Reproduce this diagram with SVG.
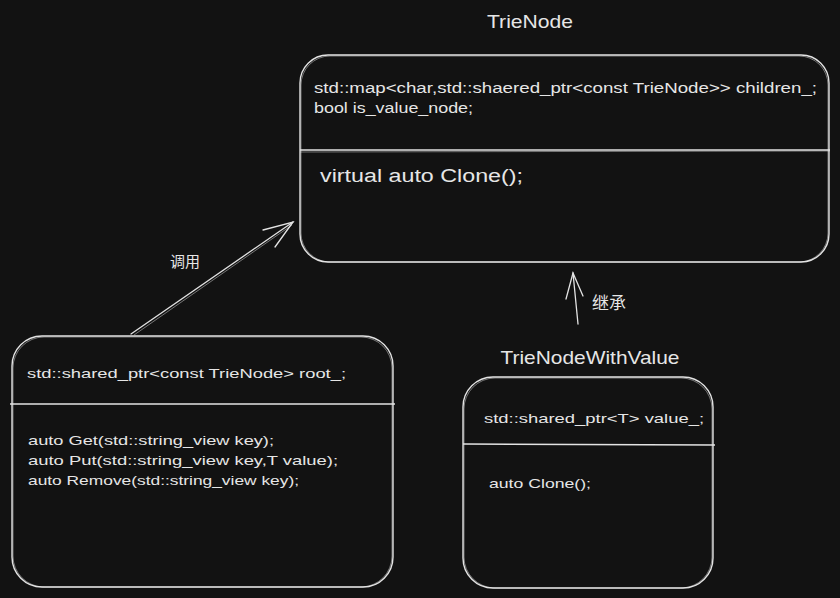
<svg xmlns="http://www.w3.org/2000/svg" width="840" height="598" viewBox="0 0 840 598">
<defs>
<style>
.bg{fill:#121212}
.box{fill:none;stroke:#e3e3e3;stroke-width:1.4}
.sk{fill:none;stroke:#e3e3e3;stroke-width:0.8;opacity:0.6}
.t{font-family:"Liberation Sans",Arial,sans-serif;fill:#e6e6e6}
.cjk{font-family:"Noto Sans CJK SC","Liberation Sans",sans-serif;fill:#e6e6e6}
.ln{fill:none;stroke:#e3e3e3;stroke-width:1.3;stroke-linecap:round}
</style>
</defs>
<rect class="bg" x="0" y="0" width="840" height="598"/>

<g id="connectors">
  <g id="call-arrow">
    <line class="ln" x1="131" y1="334" x2="293" y2="222"/>
    <line class="sk" x1="134" y1="335" x2="292" y2="225"/>
    <polyline class="ln" points="263,230 293,222 275,247"/>
    <text class="cjk" x="185" y="267" font-size="15" text-anchor="middle">调用</text>
  </g>
  <g id="inherit-arrow">
    <line class="ln" x1="578" y1="324" x2="573" y2="273"/>
    <polyline class="ln" points="566,299 573,273 583,296"/>
    <text class="cjk" x="592" y="309" font-size="17">继承</text>
  </g>
</g>

<g id="TrieNode">
  <text class="t" x="530" y="28" font-size="19" text-anchor="middle" textLength="86" lengthAdjust="spacingAndGlyphs">TrieNode</text>
  <rect class="box" x="300" y="55" width="529" height="207" rx="28" ry="28"/>
  <rect class="sk" x="301" y="56" width="527" height="206" rx="29" ry="29"/>
  <line class="box" x1="300" y1="150" x2="830" y2="150"/>
  <line class="sk" x1="300" y1="152" x2="830" y2="151"/>
  <text class="t" x="314" y="93" font-size="14" textLength="503" lengthAdjust="spacingAndGlyphs">std::map&lt;char,std::shaered_ptr&lt;const TrieNode&gt;&gt; children_;</text>
  <text class="t" x="314" y="113" font-size="14" textLength="159" lengthAdjust="spacingAndGlyphs">bool is_value_node;</text>
  <text class="t" x="320" y="182" font-size="18" textLength="203" lengthAdjust="spacingAndGlyphs">virtual auto Clone();</text>
</g>

<g id="Trie">
  <rect class="box" x="12" y="336" width="381" height="251" rx="30" ry="30"/>
  <rect class="sk" x="13" y="337" width="379" height="250" rx="31" ry="31"/>
  <line class="box" x1="10" y1="404" x2="395" y2="404"/>
  <text class="t" x="27" y="378" font-size="13" textLength="319" lengthAdjust="spacingAndGlyphs">std::shared_ptr&lt;const TrieNode&gt; root_;</text>
  <text class="t" x="28" y="445" font-size="13" textLength="246" lengthAdjust="spacingAndGlyphs">auto Get(std::string_view key);</text>
  <text class="t" x="28" y="465" font-size="13" textLength="310" lengthAdjust="spacingAndGlyphs">auto Put(std::string_view key,T value);</text>
  <text class="t" x="28" y="485" font-size="13" textLength="271" lengthAdjust="spacingAndGlyphs">auto Remove(std::string_view key);</text>
</g>

<g id="TrieNodeWithValue">
  <text class="t" x="590" y="364" font-size="19" text-anchor="middle" textLength="179" lengthAdjust="spacingAndGlyphs">TrieNodeWithValue</text>
  <rect class="box" x="463" y="377" width="250" height="211" rx="30" ry="30"/>
  <rect class="sk" x="464" y="378" width="248" height="210" rx="31" ry="31"/>
  <line class="box" x1="463" y1="444" x2="715" y2="445"/>
  <text class="t" x="484" y="423" font-size="13" textLength="220" lengthAdjust="spacingAndGlyphs">std::shared_ptr&lt;T&gt; value_;</text>
  <text class="t" x="489" y="488" font-size="13" textLength="102" lengthAdjust="spacingAndGlyphs">auto Clone();</text>
</g>
</svg>
